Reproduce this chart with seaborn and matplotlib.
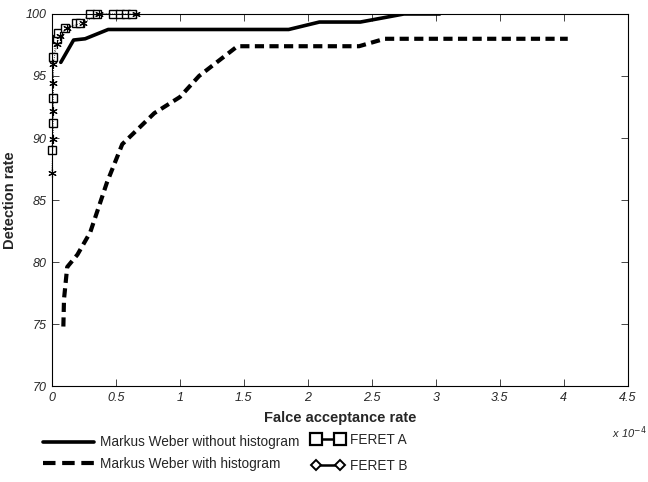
import matplotlib
matplotlib.use('Agg')
import pandas as pd
import matplotlib.pyplot as plt
import seaborn as sns
from matplotlib.lines import Line2D

# values (x in units of 1e-4)
weber_x = [0.07, 0.17, 0.26, 0.44, 1.85, 2.09, 2.41, 2.75, 3.03]
weber_y = [96.1, 97.9, 98.0, 98.75, 98.75, 99.35, 99.35, 100.0, 100.0]

weber_hist_x = [0.09, 0.095, 0.12, 0.2, 0.3, 0.43, 0.55, 0.8, 1.0, 1.15, 1.45, 2.4, 2.6, 4.03]
weber_hist_y = [74.8, 77.0, 79.6, 80.6, 82.4, 86.4, 89.5, 92.0, 93.3, 95.0, 97.4, 97.4, 98.0, 98.0]

feret_a_x = [0.0, 0.01, 0.01, 0.01, 0.04, 0.05, 0.1, 0.19, 0.22, 0.3, 0.35, 0.48, 0.53, 0.58, 0.63]
feret_a_y = [89.0, 91.2, 93.2, 96.5, 98.0, 98.5, 98.9, 99.25, 99.25, 100.0, 100.0, 100.0, 100.0, 100.0, 100.0]

feret_b_x = [0.0, 0.01, 0.01, 0.01, 0.01, 0.04, 0.06, 0.12, 0.24, 0.37, 0.66]
feret_b_y = [87.2, 89.9, 92.2, 94.4, 96.0, 97.6, 98.2, 98.9, 99.3, 100.0, 100.0]

sns.set_style('ticks')
plt.rcParams['font.family'] = ['Liberation Sans', 'DejaVu Sans']

fig = plt.figure(figsize=(6.48, 4.82), dpi=100)
ax = fig.add_axes([0.080, 0.199, 0.889, 0.772])

sns.lineplot(x=weber_x, y=weber_y, ax=ax, color='black', linewidth=2.6,
             estimator=None, sort=False)
sns.lineplot(x=weber_hist_x, y=weber_hist_y, ax=ax, color='black', linewidth=3.0,
             estimator=None, sort=False)
ax.lines[-1].set_dashes((2.2, 1.3))
sns.lineplot(x=feret_a_x, y=feret_a_y, ax=ax, color='black', linewidth=0.6,
             estimator=None, sort=False, marker='s', markersize=6,
             markerfacecolor='white', markeredgecolor='black', markeredgewidth=1.0)
ax.lines[-1].set_linestyle(':')
ax.lines[-1].set_clip_on(False)
sns.lineplot(x=feret_b_x, y=feret_b_y, ax=ax, color='black', linewidth=0.6,
             estimator=None, sort=False, marker=(6, 2, 0), markersize=6,
             markeredgecolor='black', markeredgewidth=0.8)
ax.lines[-1].set_linestyle(':')
ax.lines[-1].set_clip_on(False)

ax.set_xlim(0, 4.5)
ax.set_ylim(70, 100)
ax.set_xticks([0, 0.5, 1, 1.5, 2, 2.5, 3, 3.5, 4, 4.5])
ax.set_xticklabels(['0', '0.5', '1', '1.5', '2', '2.5', '3', '3.5', '4', '4.5'],
                   style='italic', fontsize=9)
ax.set_yticks([70, 75, 80, 85, 90, 95, 100])
ax.set_yticklabels(['70', '75', '80', '85', '90', '95', '100'], style='italic', fontsize=9)
ax.tick_params(direction='in', length=5, width=0.6, top=True, right=True, pad=4)
for s in ax.spines.values():
    s.set_visible(True)
    s.set_linewidth(0.8)
    s.set_color('black')

ax.set_xlabel('Falce acceptance rate', fontsize=10.5, fontweight='bold', labelpad=5)
ax.set_ylabel('Detection rate', fontsize=10.5, fontweight='bold', labelpad=6)
fig.text(0.945, 0.085, r'x 10$^{-4}$', fontsize=8, style='italic', ha='left', va='bottom')

left_handles = [Line2D([], [], color='black', linewidth=2.6),
                Line2D([], [], color='black', linewidth=3.0, dashes=(3.0, 1.6))]
fig.legend(left_handles, ['Markus Weber without histogram', 'Markus Weber with histogram'],
           loc='upper left', bbox_to_anchor=(0.047, 0.122), frameon=False, fontsize=9.8,
           handlelength=3.8, handletextpad=0.4, labelspacing=0.55)

right_handles = [Line2D([], [], color='black', linewidth=1.8, marker='s', markersize=8,
                        markerfacecolor='white', markeredgewidth=1.6),
                 Line2D([], [], color='black', linewidth=1.8, marker='D', markersize=5,
                        markerfacecolor='white', markeredgewidth=1.4)]
fig.legend(right_handles, ['FERET A', 'FERET B'], loc='upper left',
           bbox_to_anchor=(0.462, 0.128), frameon=False, fontsize=9.8, numpoints=2,
           handlelength=2.4, handletextpad=0.4, labelspacing=0.9)

fig.savefig('out.png', dpi=100)
